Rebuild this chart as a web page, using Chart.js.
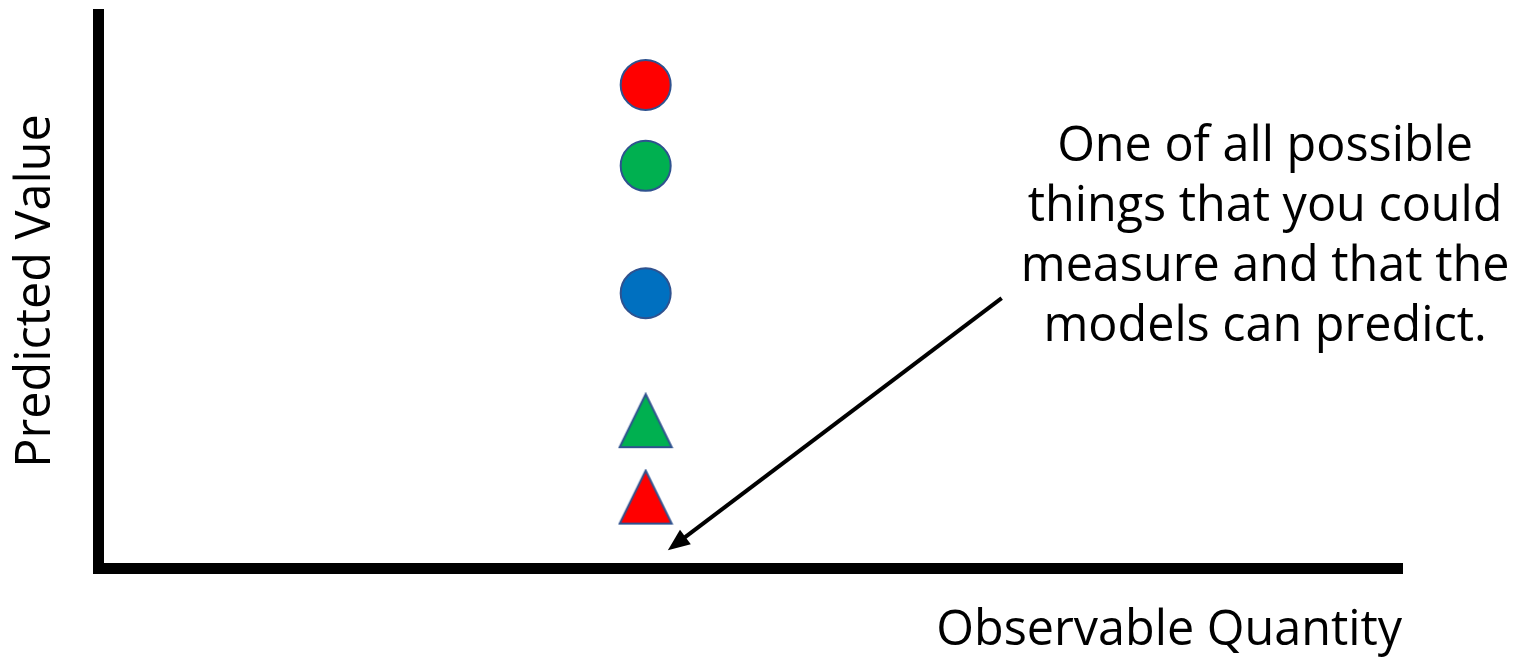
<!DOCTYPE html>
<html>
<head>
<meta charset="utf-8">
<title>Predicted Value vs Observable Quantity</title>
<script src="https://cdn.jsdelivr.net/npm/chart.js@4"></script>
<style>
  html, body { margin: 0; padding: 0; background: #fff; }
  #wrap { width: 1518px; height: 657px; }
</style>
</head>
<body>
<div id="wrap"><canvas id="chart"></canvas></div>
<script>
// one observable, five model predictions for it
const observable = 42;
const predictions = [87.2, 72.6, 49.6, 26.6, 12.8];
const fills = ["#FF0000", "#00B050", "#0070C0", "#00B050", "#FF0000"];
const shapes = ["circle", "circle", "circle", "triangle", "triangle"];

const noteLines = [
  "One of all possible",
  "things that you could",
  "measure and that the",
  "models can predict."
];

const FONT = "'Open Sans', 'Noto Sans', sans-serif";
const FONT_SIZE = 48.5;
const EDGE = "#2F528F";

// taller-than-equilateral triangle marker
function triangleMarker(fill) {
  const c = document.createElement("canvas");
  c.width = 56; c.height = 57;
  const g = c.getContext("2d");
  g.beginPath();
  g.moveTo(28, 2);
  g.lineTo(54, 55);
  g.lineTo(2, 55);
  g.closePath();
  g.fillStyle = fill;
  g.fill();
  g.lineWidth = 2;
  g.strokeStyle = EDGE;
  g.stroke();
  return c;
}

const datasets = predictions.map((v, i) => ({
  data: [{ x: observable, y: v }],
  pointStyle: shapes[i] === "triangle" ? triangleMarker(fills[i]) : "circle",
  pointRadius: 25,
  pointBackgroundColor: fills[i],
  pointBorderColor: EDGE,
  pointBorderWidth: 2
}));

// callout: arrow + text, placed in data units
const callout = {
  from: { x: 69.3, y: 48.7 },
  to: { x: 43.7, y: 3.2 },
  textX: 89.5,
  textY: 76.0,
  lineGap: 60
};

const calloutPlugin = {
  id: "callout",
  afterDatasetsDraw(chart) {
    const { ctx, scales: { x, y } } = chart;
    const x1 = x.getPixelForValue(callout.from.x), y1 = y.getPixelForValue(callout.from.y);
    const x2 = x.getPixelForValue(callout.to.x), y2 = y.getPixelForValue(callout.to.y);
    const ang = Math.atan2(y2 - y1, x2 - x1);
    const head = 22, half = 9;

    ctx.save();
    ctx.strokeStyle = "#000";
    ctx.fillStyle = "#000";
    ctx.lineWidth = 4;
    ctx.beginPath();
    ctx.moveTo(x1, y1);
    ctx.lineTo(x2 - Math.cos(ang) * (head - 2), y2 - Math.sin(ang) * (head - 2));
    ctx.stroke();

    const bx = x2 - Math.cos(ang) * head, by = y2 - Math.sin(ang) * head;
    ctx.beginPath();
    ctx.moveTo(x2, y2);
    ctx.lineTo(bx + Math.sin(ang) * half, by - Math.cos(ang) * half);
    ctx.lineTo(bx - Math.sin(ang) * half, by + Math.cos(ang) * half);
    ctx.closePath();
    ctx.fill();

    ctx.font = FONT_SIZE + "px " + FONT;
    ctx.textAlign = "center";
    ctx.textBaseline = "middle";
    const tx = x.getPixelForValue(callout.textX);
    const ty = y.getPixelForValue(callout.textY);
    noteLines.forEach((line, i) => ctx.fillText(line, tx, ty + i * callout.lineGap));
    ctx.restore();
  }
};

new Chart(document.getElementById("chart"), {
  type: "scatter",
  data: { datasets },
  plugins: [calloutPlugin],
  options: {
    responsive: true,
    maintainAspectRatio: false,
    animation: false,
    events: [],
    layout: { autoPadding: false, padding: { top: 14, right: 116, bottom: 0, left: 0 } },
    plugins: { legend: { display: false }, tooltip: { enabled: false } },
    scales: {
      x: {
        type: "linear",
        min: 0,
        max: 100,
        grid: { display: false },
        ticks: { display: false },
        border: { display: true, color: "#000", width: 11 },
        title: {
          display: true,
          text: "Observable Quantity",
          align: "end",
          color: "#000",
          font: { family: FONT, size: FONT_SIZE },
          padding: { top: 0, bottom: -3 }
        },
        afterFit(s) { s.height = 89; }
      },
      y: {
        type: "linear",
        min: 0,
        max: 100,
        grid: { display: false },
        ticks: { display: false },
        border: { display: true, color: "#000", width: 11 },
        title: {
          display: true,
          text: "Predicted Value",
          color: "#000",
          font: { family: FONT, size: FONT_SIZE },
          padding: { top: 7, bottom: 0 }
        },
        afterFit(s) { s.width = 98; }
      }
    }
  }
});
</script>
</body>
</html>
